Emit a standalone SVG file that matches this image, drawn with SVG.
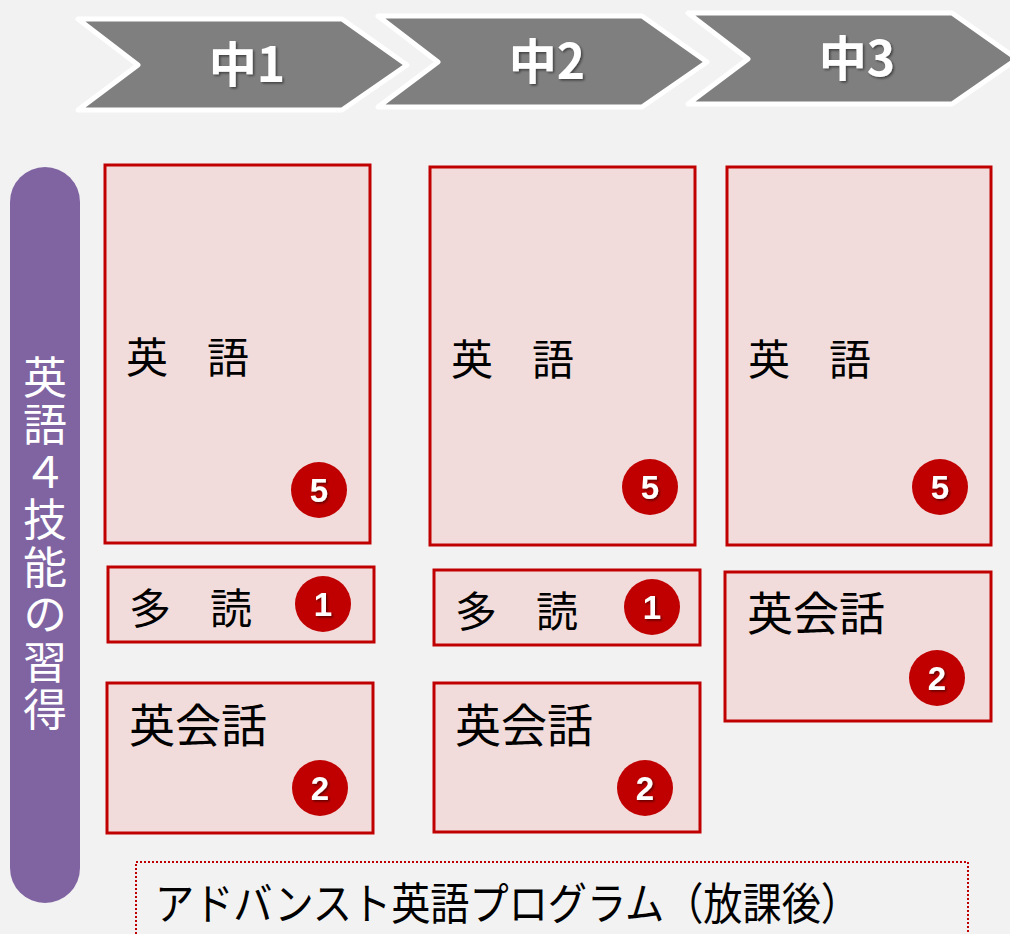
<svg xmlns="http://www.w3.org/2000/svg" width="1010" height="934" viewBox="0 0 1010 934">
<defs>
<filter id="sh" x="-20%" y="-20%" width="140%" height="140%">
<feDropShadow dx="1.5" dy="1.5" stdDeviation="1" flood-color="#000" flood-opacity="0.5"/>
</filter>
</defs>
<style>
.chev{fill:#7F7F7F;stroke:#FFFFFF;stroke-width:5;stroke-linejoin:round}
.ct{font-family:"Noto Sans CJK JP","Noto Sans",sans-serif;font-weight:bold;font-size:48px;fill:#FFFFFF;text-anchor:middle}
.box{fill:#F2DCDB;stroke:#C00000;stroke-width:3}
.bt{font-family:"Noto Sans CJK JP",sans-serif;font-size:42px;fill:#000000}
.bd{fill:#C00000}
.bn{font-family:"Liberation Sans",Arial,sans-serif;font-weight:bold;font-size:33px;fill:#FFFFFF;text-anchor:middle}
.vt{font-family:"Noto Sans CJK JP",sans-serif;font-size:44px;fill:#FFFFFF;writing-mode:vertical-rl;letter-spacing:3.5px}
</style>
<rect x="0" y="0" width="1010" height="934" fill="#F2F2F2"/>
<g id="chevron-1">
<polygon class="chev" points="78,19 342,19 407,65 342,110 78,110 138,65"/>
<text class="ct" x="247" y="82" filter="url(#sh)">中1</text>
</g>
<g id="chevron-2">
<polygon class="chev" points="378,16 642,16 707,62 642,107 378,107 438,62"/>
<text class="ct" x="547" y="79" filter="url(#sh)">中2</text>
</g>
<g id="chevron-3">
<polygon class="chev" points="688,13 952,13 1017,59 952,104 688,104 748,59"/>
<text class="ct" x="857" y="76" filter="url(#sh)">中3</text>
</g>
<g id="side-bar">
<rect x="10" y="167" width="70" height="736" rx="35" ry="35" fill="#8064A2"/>
<text class="vt" x="45" y="355">英語４技能の習得</text>
</g>
<g id="eigo-1">
<rect class="box" x="105" y="165" width="265" height="378"/>
<text class="bt" x="126" y="373">英</text>
<text class="bt" x="207" y="373">語</text>
<circle class="bd" cx="319" cy="490" r="28"/>
<text class="bn" x="319" y="502" filter="url(#sh)">5</text>
</g>
<g id="eigo-2">
<rect class="box" x="430" y="167" width="265" height="378"/>
<text class="bt" x="451" y="375">英</text>
<text class="bt" x="532" y="375">語</text>
<circle class="bd" cx="650" cy="487" r="28"/>
<text class="bn" x="650" y="499" filter="url(#sh)">5</text>
</g>
<g id="eigo-3">
<rect class="box" x="727" y="167" width="264" height="378"/>
<text class="bt" x="748" y="375">英</text>
<text class="bt" x="829" y="375">語</text>
<circle class="bd" cx="940" cy="487" r="28"/>
<text class="bn" x="940" y="499" filter="url(#sh)">5</text>
</g>
<g id="tadoku-1">
<rect class="box" x="108" y="567" width="266" height="75"/>
<text class="bt" x="129" y="624">多</text>
<text class="bt" x="210" y="624">読</text>
<circle class="bd" cx="323" cy="604" r="28"/>
<text class="bn" x="323" y="616" filter="url(#sh)">1</text>
</g>
<g id="tadoku-2">
<rect class="box" x="434" y="570" width="266" height="75"/>
<text class="bt" x="455" y="627">多</text>
<text class="bt" x="536" y="627">読</text>
<circle class="bd" cx="652" cy="607" r="28"/>
<text class="bn" x="652" y="619" filter="url(#sh)">1</text>
</g>
<g id="eikaiwa-1">
<rect class="box" x="107" y="683" width="266" height="150"/>
<text class="bt" x="129" y="742" style="font-size:46px">英会話</text>
<circle class="bd" cx="320" cy="788" r="28"/>
<text class="bn" x="320" y="800" filter="url(#sh)">2</text>
</g>
<g id="eikaiwa-2">
<rect class="box" x="434" y="683" width="266" height="149"/>
<text class="bt" x="455" y="742" style="font-size:46px">英会話</text>
<circle class="bd" cx="645" cy="788" r="28"/>
<text class="bn" x="645" y="800" filter="url(#sh)">2</text>
</g>
<g id="eikaiwa-3">
<rect class="box" x="725" y="572" width="266" height="149"/>
<text class="bt" x="747" y="630" style="font-size:46px">英会話</text>
<circle class="bd" cx="937" cy="678" r="28"/>
<text class="bn" x="937" y="690" filter="url(#sh)">2</text>
</g>
<g id="advanced">
<rect x="136" y="862" width="832" height="90" fill="none" stroke="#C00000" stroke-width="2" stroke-dasharray="2 2"/>
<text x="155" y="920" font-family="'Noto Sans CJK JP',sans-serif" font-size="44" fill="#000000" textLength="705" lengthAdjust="spacingAndGlyphs">アドバンスト英語プログラム（放課後）</text>
</g>
<g id="connectors"></g>
</svg>
